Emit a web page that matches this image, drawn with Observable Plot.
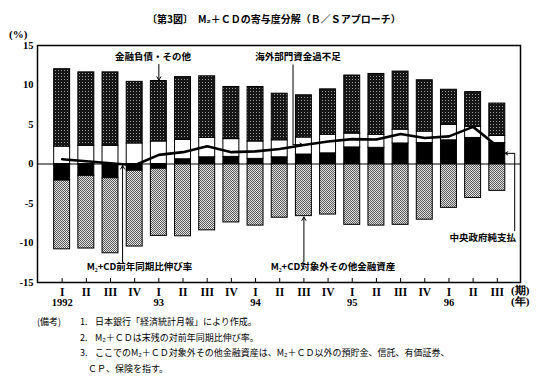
<!DOCTYPE html>
<html><head><meta charset="utf-8">
<script src="https://cdn.jsdelivr.net/npm/d3@7"></script>
<script src="https://cdn.jsdelivr.net/npm/@observablehq/plot@0.6"></script>
<style>
body{margin:0;background:#fff;}
#wrap{position:relative;width:549px;height:390px;overflow:hidden;font-family:"Noto Sans CJK JP",sans-serif;color:#000;}
#wrap svg{position:absolute;left:0;top:0;}
.t{position:absolute;white-space:nowrap;line-height:1;}
.b{font-weight:bold;}
.serif{font-family:"Liberation Serif","DejaVu Serif",serif;font-weight:bold;}
.n{font-size:9px;}
</style></head><body>
<div id="wrap">
<div class="t b" style="left:147px;top:14px;font-size:10px;">〔第3図〕　M₂＋ＣＤの寄与度分解（Ｂ／Ｓアプローチ）</div>
<div class="t serif" style="left:9px;top:29px;font-size:11px;">(%)</div>
<div class="t serif" style="left:511px;top:285px;font-size:11px;">(期)</div>
<div class="t serif" style="left:511px;top:296px;font-size:11px;">(年)</div>
<div class="t n" style="left:37px;top:317px;">(備考)</div>
<div class="t n" style="left:80px;top:317px;">1.</div>
<div class="t n" style="left:95px;top:317px;">日本銀行「経済統計月報」により作成。</div>
<div class="t n" style="left:80px;top:333px;">2.</div>
<div class="t n" style="left:95px;top:333px;">M₂＋ＣＤは末残の対前年同期比伸び率。</div>
<div class="t n" style="left:80px;top:348px;">3.</div>
<div class="t n" style="left:95px;top:348px;">ここでのM₂＋ＣＤ対象外その他金融資産は、M₂＋ＣＤ以外の預貯金、信託、有価証券、</div>
<div class="t n" style="left:88px;top:364px;">ＣＰ、保険を指す。</div>
</div>
<script>
const quarters = ["I","II","III","IV","I","II","III","IV","I","II","III","IV","I","II","III","IV","I","II","III"];
const years = ["1992","","","","93","","","","94","","","","95","","","","96","",""];
// contributions (%)
const govt        = [-2.1,-1.5,-1.8,-0.85,-0.6,0.6,0.85,0.9,0.65,0.85,1.2,1.35,2.1,2.05,2.6,2.65,3.0,3.3,2.65];
const overseas    = [2.2,2.3,2.3,2.6,2.85,2.45,2.45,2.25,2.2,2.15,2.15,2.35,1.75,1.65,1.75,1.45,1.95,1.4,0.9];
const liabilities = [9.8,9.3,9.3,7.8,7.65,7.95,7.8,6.6,6.9,5.9,5.35,5.75,7.35,7.7,7.35,6.5,4.45,4.4,4.1];
const otherAssets = [-8.7,-9.2,-9.5,-9.6,-8.5,-9.15,-8.4,-7.4,-7.8,-6.8,-6.6,-6.4,-7.7,-7.8,-7.7,-7.05,-5.55,-4.3,-3.4];
const m2cd        = [0.6,0.35,0.1,-0.15,1.15,1.5,2.25,1.5,1.6,1.9,2.4,2.85,3.15,3.1,3.8,3.3,3.5,4.7,2.25];
const yTicks = [-15,-10,-5,0,5,10,15];

const seriesList = [govt, overseas, liabilities, otherAssets];
const seriesFill = ["black", "white", "url(#pDark)", "url(#pGray)"];

// stack the contributions (positive upward, negative downward)
const segs = [];
quarters.forEach((q, i) => {
  let pos = 0, neg = 0;
  seriesList.forEach((vals, s) => {
    const v = vals[i];
    if (v >= 0) { segs.push({i, s, y1: pos, y2: pos + v}); pos += v; }
    else { segs.push({i, s, y1: neg, y2: neg + v}); neg += v; }
  });
});
const lineData = m2cd.map((v, i) => ({i, v}));
const idx = quarters.map((q, i) => i);

const labels = [
  {x: 3.76, y: 13.5, t: "金融負債・その他"},
  {x: 9.76, y: 13.5, t: "海外部門資金過不足"},
  {x: 3.2, y: -13.0, t: "M₂+CD前年同期比伸び率"},
  {x: 11.2, y: -13.0, t: "M₂+CD対象外その他金融資産"},
  {x: 17.4, y: -9.3, t: "中央政府純支払"}
];
const arrows = [
  {x1: 4.0, y1: 12.6, x2: 4.0, y2: 10.6},
  {x1: 9.55, y1: 2.45, x2: 9.95, y2: 2.45},
  {x1: 2.5, y1: -12.4, x2: 2.5, y2: -0.2},
  {x1: 10.0, y1: -12.4, x2: 10.0, y2: -6.7},
  {x1: 18.72, y1: 1.35, x2: 18.32, y2: 1.35}
];
const links = [
  {x1: 9.55, y1: 12.6, x2: 9.55, y2: 2.45},
  {x1: 18.72, y1: -8.5, x2: 18.72, y2: 1.35}
];

const cjk = "Noto Sans CJK JP";
const serif = "Liberation Serif";

const marks = [];
seriesFill.forEach((f, s) => {
  marks.push(Plot.rect(segs.filter(d => d.s === s), {
    x1: d => d.i - 0.33, x2: d => d.i + 0.33, y1: "y1", y2: "y2",
    fill: f, stroke: "black", strokeWidth: 1
  }));
});
marks.push(
  Plot.ruleY([0], {stroke: "black", strokeWidth: 1}),
  Plot.line(lineData, {x: "i", y: "v", stroke: "black", strokeWidth: 2.6, strokeLinejoin: "round"}),
  Plot.link(links, {x1: "x1", y1: "y1", x2: "x2", y2: "y2", stroke: "black", strokeWidth: 1}),
  Plot.arrow(arrows, {x1: "x1", y1: "y1", x2: "x2", y2: "y2", stroke: "black", strokeWidth: 1, headLength: 6}),
  Plot.text(labels, {x: "x", y: "y", text: "t", fontFamily: cjk, fontWeight: "bold", fontSize: 9.5, fill: "black"}),
  Plot.frame({stroke: "black", strokeWidth: 1.5}),
  Plot.axisY({ticks: yTicks, tickSize: 0, tickPadding: 4, tickFormat: d => String(d), fontFamily: serif, fontWeight: "bold", fontSize: 10.5, label: null}),
  Plot.axisX({ticks: idx, tickSize: -4, tickPadding: 9, tickFormat: i => quarters[i], fontFamily: serif, fontWeight: "bold", fontSize: 11.5, label: null}),
  Plot.axisX({ticks: idx, tickSize: 0, tickPadding: 16, tickFormat: i => years[i], fontFamily: serif, fontWeight: "bold", fontSize: 10.5, label: null})
);

const svg = Plot.plot({
  width: 549, height: 390,
  marginTop: 45, marginBottom: 108, marginLeft: 37, marginRight: 29,
  x: {domain: [-1.02, 18.96]},
  y: {domain: [-15, 15]},
  style: {background: "transparent", color: "black"},
  marks
});
const ns = "http://www.w3.org/2000/svg";
const defs = document.createElementNS(ns, "defs");
defs.innerHTML = `
<pattern id="pDark" width="3" height="3" patternUnits="userSpaceOnUse">
  <rect width="3" height="3" fill="#161616"/><rect x="1" y="1" width="1" height="1" fill="#9a9a9a"/>
</pattern>
<pattern id="pGray" width="2" height="2" patternUnits="userSpaceOnUse">
  <rect width="2" height="2" fill="#e2e2e2"/><rect width="1" height="1" fill="#5a5a5a"/><rect x="1" y="1" width="1" height="1" fill="#5a5a5a"/>
</pattern>`;
svg.insertBefore(defs, svg.firstChild);
document.getElementById("wrap").prepend(svg);
</script>
</body></html>
